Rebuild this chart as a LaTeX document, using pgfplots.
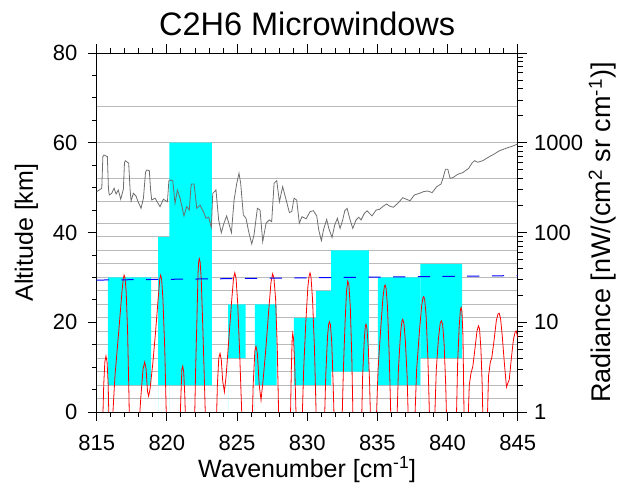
\documentclass[border=0pt]{standalone}
\usepackage{fontspec}
\setmainfont{Liberation Sans}
\usepackage{pgfplots}
\pgfplotsset{compat=1.18}
\definecolor{mwcyan}{RGB}{0,255,255}
\definecolor{specgray}{RGB}{110,110,110}
\begin{document}
\begin{tikzpicture}
\useasboundingbox (-96.7pt,-72pt) rectangle (524.3pt,412pt);
\pgfplotsset{
  common/.style={
    at={(0,0)}, anchor=south west, scale only axis,
    width=421pt, height=359pt,
    xmin=815, xmax=845,
    tick align=outside,
    major tick length=9pt, minor tick length=5pt,
    every tick/.style={black, line width=0.8pt},
    axis line style={line width=0.8pt},
    ticklabel style={font=\fontsize{22}{26}\selectfont},
    /pgf/number format/assume math mode=true,
    label style={font=\fontsize{25}{30}\selectfont},
  }
}
\begin{axis}[common,
  ymin=0, ymax=80,
  xtick={815,820,...,845}, minor x tick num=4,
  ytick={0,20,...,80}, minor y tick num=3,
  ytick pos=left,
  xticklabel style={anchor=base, yshift=-29.7pt},
  yticklabel style={anchor=east, xshift=-6.7pt},
  xticklabel shift=0pt, yticklabel shift=0pt,
  xlabel={Wavenumber [cm\textsuperscript{-1}]},
  xlabel style={at={(axis description cs:0.5,-0.183)}, anchor=base},
  ylabel={Altitude [km]},
  ylabel style={at={(axis description cs:-0.1513,0.5)}, anchor=base, rotate=0},
  title={C2H6 Microwindows},
  title style={font=\fontsize{32.5}{38}\selectfont, at={(axis description cs:0.5,1.032)}, anchor=base},
  extra y ticks={3,6,...,42,47,52,60,68},
  extra y tick labels={},
  extra y tick style={grid=major, major grid style={draw=black!27, line width=1pt}, major tick length=0pt},
]
% microwindows (wavenumber range x altitude range)
\addplot[fill=mwcyan, draw=none] coordinates {(815.8,6) (818.88,6) (818.88,30) (815.8,30)} \closedcycle;
\addplot[fill=mwcyan, draw=none] coordinates {(819.37,6) (823.2,6) (823.2,39) (819.37,39)} \closedcycle;
\addplot[fill=mwcyan, draw=none] coordinates {(820.17,6) (823.2,6) (823.2,60) (820.17,60)} \closedcycle;
\addplot[fill=mwcyan, draw=none] coordinates {(824.37,12) (825.62,12) (825.62,24) (824.37,24)} \closedcycle;
\addplot[fill=mwcyan, draw=none] coordinates {(826.28,6) (827.83,6) (827.83,24) (826.28,24)} \closedcycle;
\addplot[fill=mwcyan, draw=none] coordinates {(829.05,6) (830.64,6) (830.64,21) (829.05,21)} \closedcycle;
\addplot[fill=mwcyan, draw=none] coordinates {(830.64,6) (831.7,6) (831.7,27) (830.64,27)} \closedcycle;
\addplot[fill=mwcyan, draw=none] coordinates {(831.7,9) (834.4,9) (834.4,36) (831.7,36)} \closedcycle;
\addplot[fill=mwcyan, draw=none] coordinates {(835.04,6) (838.07,6) (838.07,30) (835.04,30)} \closedcycle;
\addplot[fill=mwcyan, draw=none] coordinates {(838.07,12) (841.04,12) (841.04,33) (838.07,33)} \closedcycle;
\end{axis}
\begin{axis}[common,
  ymode=log, ymin=1, ymax=10000,
  axis x line=none,
  axis y line*=right,
  ytick={1,10,100,1000,10000},
  yticklabels={1,10,100,1000,{}},
  yticklabel style={anchor=west, xshift=4pt},
  yticklabel shift=0pt,
  ylabel={Radiance [nW/(cm\textsuperscript{2} sr cm\textsuperscript{-1})]},
  ylabel style={font=\fontsize{27}{32}\selectfont, at={(axis description cs:1.2216,0.5)}, anchor=base, rotate=0},
]
% upper (gray) spectrum
\addplot[specgray, line width=0.8pt] coordinates {
(815.0,285) (815.36,311) (815.44,700) (815.52,730) (815.76,700) (815.84,300) (815.9,262) (816.07,273)
(816.24,311) (816.38,269) (816.54,297) (816.71,235) (816.9,303) (816.98,600) (817.04,631) (817.28,592)
(817.38,300) (817.45,224) (817.61,273) (817.8,255) (817.95,220) (818.16,186) (818.33,241) (818.48,470) (818.56,497)
(818.75,489) (818.84,300) (818.92,230) (819.16,241) (819.51,194) (819.75,235) (820.04,220) (820.14,370) (820.18,385)
(820.42,378) (820.58,211) (820.75,297) (820.94,241) (821.22,153) (821.41,194) (821.6,178) (821.72,330) (821.77,347)
(821.94,347) (822.13,186) (822.36,202) (822.6,171) (822.79,144) (822.98,148) (823.17,114) (823.27,273)
(823.5,297) (823.69,138) (823.88,99.5) (824.07,127) (824.26,153) (824.45,121) (824.6,99.5) (824.79,230)
(824.98,353) (825.14,457) (825.26,353) (825.45,157) (825.64,144) (825.83,102) (826.05,74.5) (826.21,94)
(826.45,186) (826.64,178) (826.83,79) (827.07,127) (827.3,138) (827.47,132) (827.64,353) (827.83,378)
(828.02,220) (828.25,324) (828.44,250) (828.73,167) (828.9,171) (829.06,241) (829.25,230) (829.44,127)
(829.63,150) (829.92,142) (830.21,171) (830.44,175) (830.68,153) (830.82,107) (831.01,81) (831.16,107)
(831.39,140) (831.54,111) (831.77,88) (831.96,121) (832.15,144) (832.34,111) (832.53,138) (832.68,175)
(832.84,186) (833.06,138) (833.25,111) (833.48,138) (833.67,148) (833.84,138) (834.08,164) (834.27,174)
(834.43,164) (834.62,153) (834.91,178) (835.15,181) (835.43,197) (835.67,208) (835.86,197) (836.14,191)
(836.45,211) (836.81,244) (837.05,235) (837.33,226) (837.64,262) (838.0,273) (838.28,285) (838.59,290)
(838.9,278) (839.23,324) (839.54,347) (839.71,419) (839.85,506) (840.02,506) (840.18,402) (840.37,408)
(840.73,445) (841.08,464) (841.51,519) (841.73,590) (841.92,631) (842.15,606) (842.51,631) (842.98,700)
(843.34,750) (843.7,815) (844.17,867) (844.65,920) (845.0,968)
};
% lower (red) spectrum
\addplot[red, line width=0.8pt] coordinates {
(815.0,0.3) (815.4,0.5) (815.5,2.0) (815.58,3.6) (815.66,4.2) (815.74,3.6) (815.82,2.0) (815.9,0.5)
(816.05,0.5) (816.3,2.5) (816.6,9) (816.8,22) (816.9,31) (816.95,33.5) (817.02,31) (817.1,22) (817.2,8) (817.3,1.5) (817.35,0.5)
(817.95,0.5) (818.15,1.5) (818.3,3.0) (818.42,3.6) (818.52,3.0) (818.62,1.7) (818.7,1.5) (818.8,1.8) (819.0,3.5)
(819.2,8) (819.4,20) (819.5,31) (819.56,33.5) (819.63,30) (819.72,18) (819.85,5) (820.0,0.5)
(820.9,0.5) (821.0,1.5) (821.07,3.0) (821.13,3.24) (821.2,2.8) (821.28,1.5) (821.37,0.5)
(821.95,0.5) (822.05,3) (822.15,12) (822.22,35) (822.27,48) (822.31,51) (822.37,47) (822.45,30) (822.55,10) (822.65,3) (822.79,0.5)
(823.5,0.5) (823.6,2.0) (823.7,4.0) (823.79,4.5) (823.88,3.8) (823.98,2.2) (824.1,1.68) (824.22,2.5) (824.4,6)
(824.6,16) (824.75,31) (824.84,35.5) (824.93,31) (825.05,16) (825.2,4) (825.4,0.5)
(826.05,0.5) (826.15,2) (826.27,4.8) (826.35,5.4) (826.45,4.5) (826.58,2) (826.71,1.36) (826.85,2.2) (827.05,5)
(827.25,13) (827.42,28) (827.54,34.7) (827.63,31) (827.75,18) (827.87,5) (828.0,0.5)
(828.78,0.5) (828.87,3) (828.93,6.5) (828.97,7.5) (829.03,6.5) (829.12,3) (829.25,0.5)
(829.6,0.5) (829.75,3) (829.9,10) (830.05,25) (830.14,33) (830.2,35.5) (830.27,32) (830.38,18) (830.52,5) (830.68,0.5)
(831.2,0.5) (831.32,2.5) (831.45,7) (831.53,9.5) (831.58,10.1) (831.65,9.5) (831.75,6) (831.85,2) (831.96,0.5)
(832.45,0.5) (832.58,3) (832.7,10) (832.8,22) (832.89,28.8) (832.97,26) (833.07,15) (833.18,4) (833.29,0.5)
(833.85,0.5) (833.95,2.5) (834.07,6.5) (834.14,9) (834.19,9.5) (834.26,8.5) (834.36,5) (834.45,2) (834.55,0.5)
(834.88,0.5) (835.05,3) (835.25,9) (835.4,19) (835.5,25) (835.55,26) (835.62,24) (835.72,15) (835.85,4) (836.0,0.5)
(836.36,0.5) (836.5,3) (836.65,7.5) (836.75,10.3) (836.81,10.8) (836.9,9.5) (837.0,6) (837.12,2.5) (837.24,0.5)
(837.62,0.5) (837.8,3) (838.0,8) (838.15,15) (838.25,18.8) (838.3,19.3) (838.37,18) (838.47,12) (838.6,4) (838.76,0.5)
(839.04,0.5) (839.2,3) (839.35,6.5) (839.48,9.8) (839.56,10.4) (839.65,9.5) (839.75,6) (839.87,2) (839.97,0.5)
(840.6,0.5) (840.72,3.5) (840.83,9) (840.92,13.8) (840.97,14.6) (841.03,13) (841.1,7) (841.2,0.5)
(841.42,0.5) (841.55,2.0) (841.67,2.7) (841.8,3.2) (841.95,5) (842.1,8) (842.2,9.1) (842.28,8.5) (842.38,5) (842.47,2) (842.55,0.5)
(842.8,0.5) (842.92,2.5) (843.05,3.6) (843.15,4.0) (843.3,6) (843.48,10.5) (843.6,12.4) (843.68,12.6) (843.78,11)
(843.9,7) (844.05,3.5) (844.2,1.9) (844.3,2.1) (844.4,2.3) (844.55,4) (844.7,6.5) (844.83,7.9) (844.9,8.0) (844.96,7.2) (845.0,6.7)
};
% reference level
\addplot[blue, line width=1pt, dash pattern=on 12.3pt off 12.4pt] coordinates {(815,29.5) (845,33.1)};
\end{axis}
\end{tikzpicture}
\end{document}
